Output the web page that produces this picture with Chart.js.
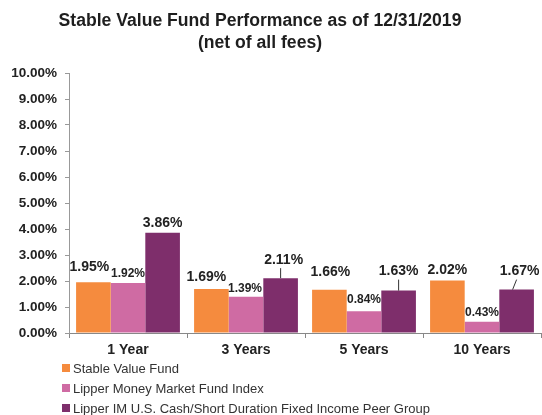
<!DOCTYPE html>
<html>
<head>
<meta charset="utf-8">
<script src="https://cdn.jsdelivr.net/npm/chart.js@4.4.1/dist/chart.umd.min.js"></script>
<style>
  html, body { margin: 0; padding: 0; background: #fff; overflow: hidden; }
  #wrap { width: 542px; height: 415px; position: relative; }
</style>
</head>
<body>
<div id="wrap"><canvas id="perfChart" width="542" height="415"></canvas></div>
<script>
// data
const periods = ['1 Year', '3 Years', '5 Years', '10 Years'];
const stableValue = [1.95, 1.69, 1.66, 2.02];
const moneyMarket = [1.92, 1.39, 0.84, 0.43];
const cashShortDuration = [3.86, 2.11, 1.63, 1.67];
const seriesNames = [
  'Stable Value Fund',
  'Lipper Money Market Fund Index',
  'Lipper IM U.S. Cash/Short Duration Fixed Income Peer Group'
];
const yTicks = [0, 1, 2, 3, 4, 5, 6, 7, 8, 9, 10];
const titleLines = ['Stable Value Fund Performance as of 12/31/2019', '(net of all fees)'];

const colors = ['#f58b3e', '#cf6ba3', '#7e2e6b'];
const FONT = 'Arial, "Liberation Sans", Helvetica, sans-serif';

// label nudges per series/category: [dx, gap above bar, leader end dx or null]
const labelNudge = [
  [[-4, 15, null], [-5, 12, null], [1, 18, null], [0, 10, null]],
  [[0, 9, null], [-1, 8, null], [0, 11, null], [0, 9, null]],
  [[0, 9, null], [3, 18, 0], [0, 19, 0], [3, 18, -4]]
];

const valueLabels = {
  id: 'valueLabels',
  afterDatasetsDraw(chart) {
    const ctx = chart.ctx;
    ctx.save();
    ctx.textAlign = 'center';
    ctx.textBaseline = 'middle';
    ctx.fillStyle = '#222';
    chart.data.datasets.forEach((ds, di) => {
      const meta = chart.getDatasetMeta(di);
      ctx.font = (di === 1 ? 'bold 12px ' : 'bold 14px ') + FONT;
      meta.data.forEach((bar, i) => {
        const [dx, gap, lead] = labelNudge[di][i];
        const x = bar.x + dx;
        const y = bar.y - gap;
        ctx.fillText(ds.data[i].toFixed(2) + '%', x, y);
        if (lead !== null) {
          // short leader line from label down to bar top
          ctx.strokeStyle = '#333';
          ctx.lineWidth = 1;
          ctx.beginPath();
          ctx.moveTo(bar.x, y + 8);
          ctx.lineTo(bar.x + lead, bar.y);
          ctx.stroke();
        }
      });
    });
    ctx.restore();
  }
};

const titleAndLegend = {
  id: 'titleAndLegend',
  afterDraw(chart) {
    const ctx = chart.ctx;
    ctx.save();
    ctx.fillStyle = '#1e1e1e';
    ctx.textAlign = 'center';
    ctx.textBaseline = 'middle';
    ctx.font = 'bold 17.6px ' + FONT;
    titleLines.forEach((t, i) => ctx.fillText(t, 260, 21 + i * 22));

    ctx.textAlign = 'left';
    ctx.font = '13px ' + FONT;
    chart.data.datasets.forEach((ds, i) => {
      const y = 368 + i * 20;
      ctx.fillStyle = ds.backgroundColor;
      ctx.fillRect(62, y - 4, 8, 8);
      ctx.fillStyle = '#333';
      ctx.fillText(ds.label, 73, y + 1);
    });
    ctx.restore();
  }
};

new Chart(document.getElementById('perfChart'), {
  type: 'bar',
  data: {
    labels: periods,
    datasets: [stableValue, moneyMarket, cashShortDuration].map((d, i) => ({
      label: seriesNames[i],
      data: d,
      backgroundColor: colors[i],
      borderWidth: 0,
      categoryPercentage: 0.88,
      barPercentage: 1.0
    }))
  },
  options: {
    responsive: false,
    animation: false,
    layout: { padding: { top: 73, bottom: 52, left: 0, right: 1 } },
    plugins: {
      legend: { display: false },
      title: { display: false },
      tooltip: { enabled: false }
    },
    scales: {
      x: {
        afterFit(scale) { scale.height = 30; },
        grid: { drawOnChartArea: false, drawTicks: true, tickLength: 5, color: '#888', offset: true },
        border: { color: '#888', width: 1 },
        ticks: { color: '#222', font: { family: FONT, size: 14, weight: 'bold' }, padding: 4 }
      },
      y: {
        min: 0,
        max: 10,
        afterFit(scale) { scale.width = 69; },
        afterBuildTicks(scale) { scale.ticks = yTicks.map(v => ({ value: v })); },
        grid: { drawOnChartArea: false, drawTicks: true, tickLength: 4, color: '#999' },
        border: { color: '#999', width: 1 },
        ticks: {
          color: '#222',
          font: { family: FONT, size: 13.5, weight: 'bold' },
          padding: 8,
          callback: v => v.toFixed(2) + '%'
        }
      }
    }
  },
  plugins: [valueLabels, titleAndLegend]
});
</script>
</body>
</html>
